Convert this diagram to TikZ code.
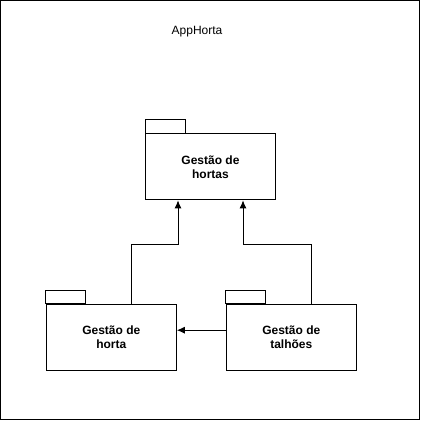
\documentclass[tikz,border=0pt]{standalone}
\usepackage{fontspec}
\setmainfont{Liberation Sans}
\usetikzlibrary{arrows.meta}

\tikzset{
	pkgbody/.style={draw,line width=1pt,minimum width=130pt,minimum height=66pt,inner sep=0pt,align=center,font=\bfseries\fontsize{12}{14}\selectfont},
	pkgtab/.style={draw,line width=1pt},
	dep/.style={-{Latex[length=8pt,width=7pt]},line width=1pt}
}

\begin{document}
\begin{tikzpicture}[x=1pt,y=-1pt]
			\useasboundingbox (0,0) rectangle (421,421);
			\draw[line width=1pt] (0.5,0.5) rectangle (419.5,419.5);
			\node[font=\fontsize{12}{14}\selectfont] (title) at (197,31.5) {AppHorta};
			% packages
			\node[pkgbody] (hortas) at (210.5,166.8) {Gestão de\\hortas};
			\node[pkgbody] (horta) at (111.3,337.2) {Gestão de\\horta};
			\node[pkgbody] (talhoes) at (291.3,337.2) {Gestão de\\talhões};
			\foreach \pkg in {hortas,horta,talhoes}
			{
				\draw[pkgtab] (\pkg.north west) rectangle ++(40,-13.5);
			}
			% dependencies
			\draw[dep] ([xshift=20pt]horta.north) -- ++(0,-59) -| ([xshift=-32.5pt]hortas.south);
			\draw[dep] ([xshift=20pt]talhoes.north) -- ++(0,-59) -| ([xshift=32.5pt]hortas.south);
			\draw[dep] ([yshift=7pt]talhoes.west) -- ([yshift=7pt]horta.east);
		\end{tikzpicture}
\end{document}
